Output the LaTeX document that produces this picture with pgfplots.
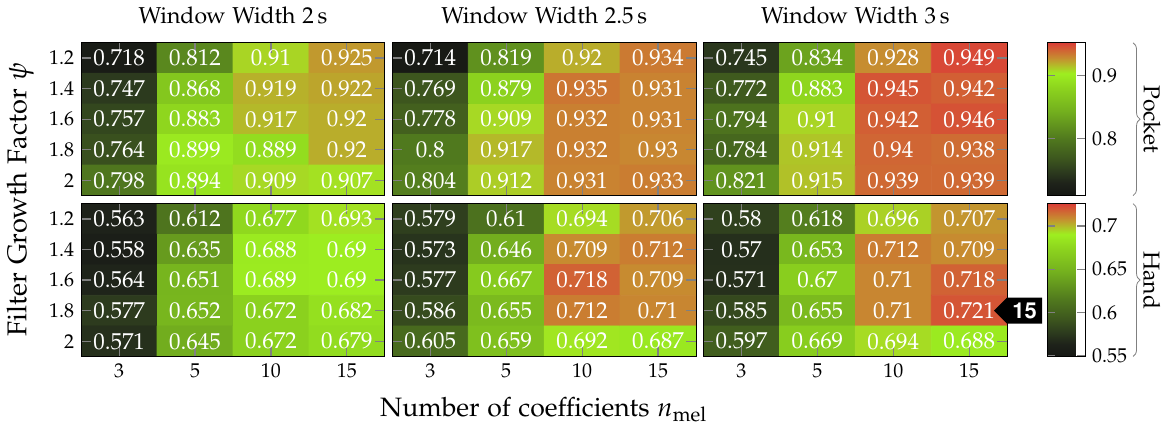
\documentclass[border=0pt]{standalone}
\usepackage[sc]{mathpazo}
\usepackage[T1]{fontenc}
\usepackage{pgfplots}
\usepackage{pgfplotstable}
\pgfplotsset{compat=1.18}
\usetikzlibrary{decorations.pathreplacing,shapes.symbols}

\pgfplotsset{
  colormap={mymap}{rgb255(0cm)=(22,24,20); rgb255(0.8cm)=(30,34,26); rgb255(1.6cm)=(45,60,30); rgb255(2.5cm)=(62,88,30); rgb255(3.7cm)=(80,120,30); rgb255(5.5cm)=(115,175,30); rgb255(7cm)=(140,210,30); rgb255(8cm)=(158,238,32); rgb255(9cm)=(198,142,48); rgb255(10cm)=(218,62,55)},
  hm/.style={
    scale only axis, width=152pt, height=76.5pt,
    xmin=-0.5, xmax=3.5, ymin=-0.5, ymax=4.5, y dir=reverse,
    xtick={0,1,2,3}, ytick={0,1,2,3,4},
    xticklabels={3,5,10,15}, yticklabels={1.2,1.4,1.6,1.8,2},
    tick align=inside, tick style={color=gray, semithick}, major tick length=5pt,
    cycle list={{gray}},
    colormap name=mymap, axis on top,
    tick label style={font=\fontsize{10}{12}\selectfont},
    title style={font=\fontsize{11.5}{13}\selectfont},
    anchor=south west,
  },
  pocket/.style={point meta min=0.71, point meta max=0.952},
  hand/.style={point meta min=0.549, point meta max=0.726},
  heat/.style={matrix plot*, mesh/cols=4, point meta=explicit},
  vals/.style={only marks, mark=none, point meta=explicit,
    nodes near coords={\pgfmathprintnumber[fixed,precision=3]{\pgfplotspointmeta}},
    every node near coord/.append style={white, anchor=center, font=\fontsize{11.5}{13}\selectfont}},
  cbar/.style={colorbar, colorbar style={at={(parent axis.north east)}, anchor=north west, xshift=11.5pt,
    scale only axis, width=19pt, height=76.5pt, tick align=inside, tick style={color=gray, semithick}, major tick length=4pt,
    yticklabel style={font=\fontsize{10}{12}\selectfont, /pgf/number format/.cd, fixed, precision=2}}},
}

\pgfplotstableread{
x y c
0 0 0.718
1 0 0.812
2 0 0.91
3 0 0.925
0 1 0.747
1 1 0.868
2 1 0.919
3 1 0.922
0 2 0.757
1 2 0.883
2 2 0.917
3 2 0.92
0 3 0.764
1 3 0.899
2 3 0.889
3 3 0.92
0 4 0.798
1 4 0.894
2 4 0.909
3 4 0.907
}\pocketA
\pgfplotstableread{
x y c
0 0 0.714
1 0 0.819
2 0 0.92
3 0 0.934
0 1 0.769
1 1 0.879
2 1 0.935
3 1 0.931
0 2 0.778
1 2 0.909
2 2 0.932
3 2 0.931
0 3 0.8
1 3 0.917
2 3 0.932
3 3 0.93
0 4 0.804
1 4 0.912
2 4 0.931
3 4 0.933
}\pocketB
\pgfplotstableread{
x y c
0 0 0.745
1 0 0.834
2 0 0.928
3 0 0.949
0 1 0.772
1 1 0.883
2 1 0.945
3 1 0.942
0 2 0.794
1 2 0.91
2 2 0.942
3 2 0.946
0 3 0.784
1 3 0.914
2 3 0.94
3 3 0.938
0 4 0.821
1 4 0.915
2 4 0.939
3 4 0.939
}\pocketC
\pgfplotstableread{
x y c
0 0 0.563
1 0 0.612
2 0 0.677
3 0 0.693
0 1 0.558
1 1 0.635
2 1 0.688
3 1 0.69
0 2 0.564
1 2 0.651
2 2 0.689
3 2 0.69
0 3 0.577
1 3 0.652
2 3 0.672
3 3 0.682
0 4 0.571
1 4 0.645
2 4 0.672
3 4 0.679
}\handA
\pgfplotstableread{
x y c
0 0 0.579
1 0 0.61
2 0 0.694
3 0 0.706
0 1 0.573
1 1 0.646
2 1 0.709
3 1 0.712
0 2 0.577
1 2 0.667
2 2 0.718
3 2 0.709
0 3 0.586
1 3 0.655
2 3 0.712
3 3 0.71
0 4 0.605
1 4 0.659
2 4 0.692
3 4 0.687
}\handB
\pgfplotstableread{
x y c
0 0 0.58
1 0 0.618
2 0 0.696
3 0 0.707
0 1 0.57
1 1 0.653
2 1 0.712
3 1 0.709
0 2 0.571
1 2 0.67
2 2 0.71
3 2 0.718
0 3 0.585
1 3 0.655
2 3 0.71
3 3 0.721
0 4 0.597
1 4 0.669
2 4 0.694
3 4 0.688
}\handC

\begin{document}
\begin{tikzpicture}
\path (0,0) rectangle (581.5pt,212pt);
% Pocket row
\begin{axis}[hm, pocket, at={(40pt,116.5pt)}, xticklabels={}, title={Window Width 2\,s}]
\addplot[heat] table[x=x, y=y, meta=c] {\pocketA};
\addplot[vals] table[x=x, y=y, meta=c] {\pocketA};
\end{axis}
\begin{axis}[hm, pocket, at={(195.75pt,116.5pt)}, xticklabels={}, yticklabels={}, title={Window Width 2.5\,s}]
\addplot[heat] table[x=x, y=y, meta=c] {\pocketB};
\addplot[vals] table[x=x, y=y, meta=c] {\pocketB};
\end{axis}
\begin{axis}[hm, pocket, at={(351.5pt,116.5pt)}, xticklabels={}, yticklabels={}, title={Window Width 3\,s},
  cbar, colorbar style={ytick={0.8,0.9}}]
\addplot[heat] table[x=x, y=y, meta=c] {\pocketC};
\addplot[vals] table[x=x, y=y, meta=c] {\pocketC};
\end{axis}
% Hand row
\begin{axis}[hm, hand, at={(40pt,36pt)}]
\addplot[heat] table[x=x, y=y, meta=c] {\handA};
\addplot[vals] table[x=x, y=y, meta=c] {\handA};
\end{axis}
\begin{axis}[hm, hand, at={(195.75pt,36pt)}, yticklabels={}]
\addplot[heat] table[x=x, y=y, meta=c] {\handB};
\addplot[vals] table[x=x, y=y, meta=c] {\handB};
\end{axis}
\begin{axis}[hm, hand, at={(351.5pt,36pt)}, yticklabels={},
  cbar, colorbar style={ytick={0.55,0.6,0.65,0.7}}]
\addplot[heat] table[x=x, y=y, meta=c] {\handC};
\addplot[vals] table[x=x, y=y, meta=c] {\handC};
\coordinate (tag) at (axis cs:3.32,3);
\end{axis}
\node[signal, signal to=west, signal pointer angle=90, fill=black, text=white, inner sep=2.6pt,
  font=\fontfamily{phv}\bfseries\fontsize{11}{13}\selectfont, anchor=west] at (tag) {15};
% braces
\draw[gray, decorate, decoration={brace, amplitude=3.5pt}] (566.5pt,193pt) -- (566.5pt,116.5pt)
  node[midway, xshift=5pt, rotate=-90, anchor=south, inner sep=0pt, black, font=\fontsize{11.5}{13}\selectfont] {Pocket};
\draw[gray, decorate, decoration={brace, amplitude=3.5pt}] (566.5pt,112.5pt) -- (566.5pt,36pt)
  node[midway, xshift=5pt, rotate=-90, anchor=south, inner sep=0pt, black, font=\fontsize{11.5}{13}\selectfont] {Hand};
% axis labels
\node[rotate=90, font=\fontsize{13.6}{16}\selectfont] at (9.5pt,114.5pt) {Filter Growth Factor $\psi$};
\node[font=\fontsize{13.3}{16}\selectfont] at (271.5pt,9.5pt) {Number of coefficients $n_{\mathrm{mel}}$};
\end{tikzpicture}
\end{document}
